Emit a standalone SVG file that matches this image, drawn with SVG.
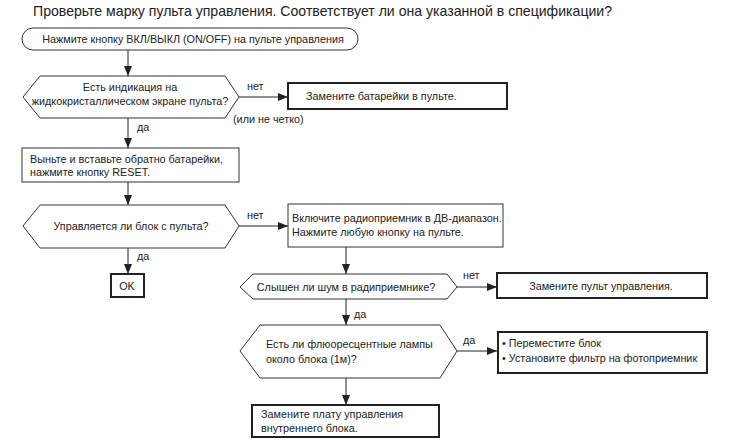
<svg xmlns="http://www.w3.org/2000/svg" width="730" height="444" viewBox="0 0 730 444">
<style>
text{font-family:"Liberation Sans",Arial,sans-serif;font-size:10.8px;fill:#222}
.t{font-size:14.1px}
.c{text-anchor:middle}
.n{fill:#fff;stroke:#333;stroke-width:1}
.b{fill:#fff;stroke:#222;stroke-width:2}
.e{stroke:#222;stroke-width:1;fill:none}
</style>
<defs>
<marker id="a" markerWidth="10" markerHeight="8" refX="10" refY="4" orient="auto" markerUnits="userSpaceOnUse">
<path d="M0,0 L10,4 L0,8 Z" fill="#222"/>
</marker>
</defs>
<rect width="730" height="444" fill="#fff"/>
<text class="t" x="33" y="16">Проверьте марку пульта управления. Соответствует ли она указанной в спецификации?</text>
<g id="connectors">
<line class="e" x1="128" y1="50" x2="128" y2="76" marker-end="url(#a)"/>
<line class="e" x1="239" y1="97" x2="288" y2="97" marker-end="url(#a)"/>
<line class="e" x1="128" y1="118" x2="128" y2="148" marker-end="url(#a)"/>
<line class="e" x1="128" y1="182" x2="128" y2="205" marker-end="url(#a)"/>
<line class="e" x1="239" y1="226" x2="288" y2="226" marker-end="url(#a)"/>
<line class="e" x1="128" y1="248" x2="128" y2="274" marker-end="url(#a)"/>
<line class="e" x1="346" y1="247" x2="346" y2="274" marker-end="url(#a)"/>
<line class="e" x1="457" y1="287" x2="497" y2="287" marker-end="url(#a)"/>
<line class="e" x1="346" y1="299" x2="346" y2="325" marker-end="url(#a)"/>
<line class="e" x1="457" y1="351" x2="497" y2="351" marker-end="url(#a)"/>
<line class="e" x1="346" y1="378" x2="346" y2="405" marker-end="url(#a)"/>
<text x="247" y="90">нет</text>
<text x="233" y="123">(или не четко)</text>
<text x="137" y="131">да</text>
<text x="247" y="219">нет</text>
<text x="137" y="260">да</text>
<text x="463" y="279">нет</text>
<text x="354" y="318">да</text>
<text x="463" y="344">да</text>
</g>
<g id="start">
<rect class="n" x="22" y="28" width="336" height="22" rx="11"/>
<text class="c" x="193" y="43">Нажмите кнопку ВКЛ/ВЫКЛ (ON/OFF) на пульте управления</text>
</g>
<g id="d1">
<polygon class="n" points="23,97 40,76 225,76 239,97 225,118 40,118"/>
<text class="c" x="130" y="91">Есть индикация на</text>
<text class="c" x="130" y="105">жидкокристаллическом экране пульта?</text>
</g>
<g id="batt">
<rect class="b" x="288" y="83" width="219" height="26"/>
<text x="306" y="100">Замените батарейки в пульте.</text>
</g>
<g id="reset">
<rect class="n" x="22" y="148" width="217" height="34"/>
<text x="30" y="163">Выньте и вставьте обратно батарейки,</text>
<text x="30" y="176">нажмите кнопку RESET.</text>
</g>
<g id="d2">
<polygon class="n" points="23,226 40,205 225,205 239,226 225,248 40,248"/>
<text class="c" x="131" y="230">Управляется ли блок с пульта?</text>
</g>
<g id="ok">
<rect class="b" x="111" y="274" width="33" height="23"/>
<text class="c" x="127" y="290">OK</text>
</g>
<g id="radio">
<rect class="n" x="288" y="204" width="215" height="43"/>
<text x="292" y="222">Включите радиоприемник в ДВ-диапазон.</text>
<text x="292" y="236">Нажмите любую кнопку на пульте.</text>
</g>
<g id="d3">
<polygon class="n" points="240,287 253,274 447,274 457,287 447,299 253,299"/>
<text class="c" x="346" y="291">Слышен ли шум в радиприемнике?</text>
</g>
<g id="remote">
<rect class="b" x="497" y="273" width="210" height="25"/>
<text class="c" x="601" y="290">Замените пульт управления.</text>
</g>
<g id="d4">
<polygon class="n" points="240,351 260,325 440,325 457,351 440,378 260,378"/>
<text x="266" y="348">Есть ли флюоресцентные лампы</text>
<text x="266" y="363">около блока (1м)?</text>
</g>
<g id="move">
<rect class="b" x="498" y="332" width="209" height="41"/>
<text x="502" y="347">• Переместите блок</text>
<text x="502" y="362">• Установите фильтр на фотоприемник</text>
</g>
<g id="board">
<rect class="b" x="252" y="405" width="187" height="32"/>
<text x="261" y="418">Замените плату управления</text>
<text x="261" y="432">внутреннего блока.</text>
</g>
</svg>
